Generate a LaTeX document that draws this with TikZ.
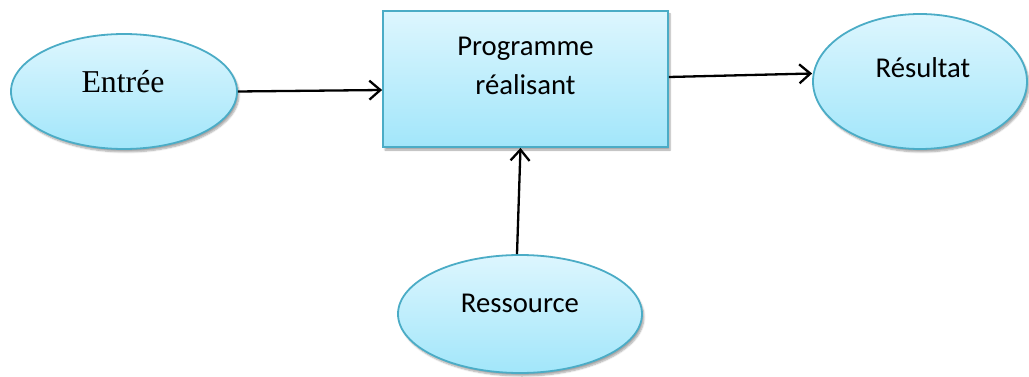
\documentclass[tikz,border=0pt]{standalone}
\usepackage{fontspec}
\usetikzlibrary{shapes.geometric,shadows.blur,arrows.meta}
\newfontfamily\serifface{Liberation Serif}
\newfontfamily\calface{Carlito}
\definecolor{edgeblue}{HTML}{4BACC6}
\definecolor{filltop}{HTML}{DDF6FE}
\definecolor{fillbot}{HTML}{A2E6FA}
\tikzset{
  shade box/.style={top color=filltop, bottom color=fillbot, draw=edgeblue, line width=1.8pt,
    blur shadow={shadow xshift=2pt, shadow yshift=-3pt, shadow blur steps=6, shadow opacity=35}},
  ovalbox/.style={shade box, ellipse, inner sep=0pt},
  procbox/.style={shade box, rectangle, inner sep=0pt},
  caltext/.style={font=\calface\fontsize{28.7}{39}\selectfont, align=center, inner sep=0pt},
  sertext/.style={font=\serifface\fontsize{31.8}{38}\selectfont, inner sep=0pt},
  flow/.style={draw=black, line width=2.3pt, -{Straight Barb[length=11pt,width=19pt,line width=2.3pt]}}
}
\begin{document}
\begin{tikzpicture}[x=1pt,y=1pt]
  \useasboundingbox (0,0) rectangle (1029,-377);
  % processing block
  \node[procbox, minimum width=285pt, minimum height=136pt] (prog) at (525.5,-79) {};
  \node[caltext] (progtxt) at (525.5,-66) {Programme\\réalisant};
  % input, output and resource ovals
  \node[ovalbox, minimum width=226pt, minimum height=115pt] (entree) at (124,-91.5) {};
  \node[sertext] (entreetxt) at (123,-82) {Entrée};
  \node[ovalbox, minimum width=214pt, minimum height=135pt] (res) at (920,-81.5) {};
  \node[caltext] (restxt) at (923,-68) {Résultat};
  \node[ovalbox, minimum width=244pt, minimum height=118pt] (ress) at (520,-314) {};
  \node[caltext] (resstxt) at (520,-303) {Ressource};
  % connectors
  \draw[flow] (entree.east) -- ([yshift=-11pt]prog.west);
  \draw[flow] ([yshift=2pt]prog.east) -- ([yshift=8pt]res.west);
  \draw[flow] ([xshift=-3pt]ress.north) -- ([xshift=-5pt]prog.south);
\end{tikzpicture}
\end{document}
